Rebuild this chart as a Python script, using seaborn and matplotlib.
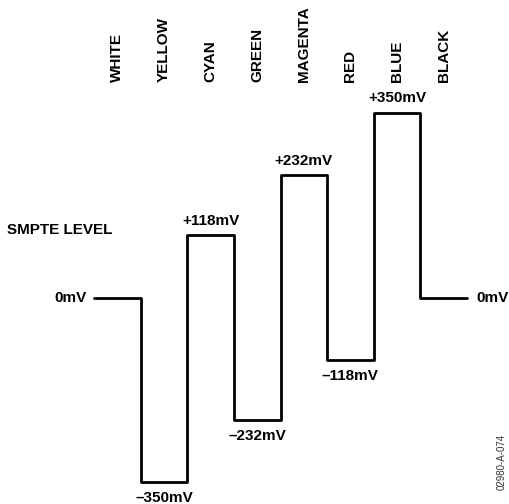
import numpy as np
import pandas as pd
import seaborn as sns
import matplotlib.pyplot as plt

# SMPTE colour bar levels (mV)
colors = ["WHITE", "YELLOW", "CYAN", "GREEN", "MAGENTA", "RED", "BLUE", "BLACK"]
levels_mv = [0, -350, 118, -232, 232, -118, 350, 0]
level_labels = ["0mV", "–350mV", "+118mV", "–232mV", "+232mV", "–118mV", "+350mV", "0mV"]

sns.set_style("white")
plt.rcParams["font.family"] = ["Liberation Sans", "DejaVu Sans"]
plt.rcParams["font.weight"] = "bold"
plt.rcParams["text.color"] = "black"

# steps-post needs one extra point to close the last bar
df = pd.DataFrame({
    "bar": np.arange(len(colors) + 1),
    "mv": levels_mv + [levels_mv[-1]],
})

fig = plt.figure(figsize=(5.09, 5.04), dpi=100)
ax = fig.add_axes([94 / 509, 22 / 504, 373 / 509, 369 / 504])

sns.lineplot(data=df, x="bar", y="mv", drawstyle="steps-post",
             color="black", linewidth=2.0, ax=ax, clip_on=False)

ax.set_xlim(0, len(colors))
ax.set_ylim(-350, 350)
ax.axis("off")

fs = 11
# colour names along the top, centred on each bar
for i, name in enumerate(colors):
    ax.annotate(name, xy=(i + 0.5, 1 - 82 / 504),
                xycoords=("data", "figure fraction"),
                rotation=90, ha="center", va="bottom",
                fontsize=fs, fontweight="bold", color="black")

# level labels above/below each bar (inner bars only)
for i in range(1, len(colors) - 1):
    v = levels_mv[i]
    if v > 0:
        ax.annotate(level_labels[i], xy=(i + 0.5, v), xytext=(0, 5.5),
                    textcoords="offset points", ha="center", va="bottom",
                    fontsize=fs, fontweight="bold", color="black")
    else:
        ax.annotate(level_labels[i], xy=(i + 0.5, v), xytext=(0, -6.5),
                    textcoords="offset points", ha="center", va="top",
                    fontsize=fs, fontweight="bold", color="black")

# 0mV at both ends
ax.annotate(level_labels[0], xy=(0, levels_mv[0]), xytext=(-5, 0),
            textcoords="offset points", ha="right", va="center",
            fontsize=fs, fontweight="bold", color="black")
ax.annotate(level_labels[-1], xy=(len(colors), levels_mv[-1]), xytext=(7, 0),
            textcoords="offset points", ha="left", va="center",
            fontsize=fs, fontweight="bold", color="black")

fig.text(7 / 509, 1 - 230 / 504, "SMPTE LEVEL", ha="left", va="center",
         fontsize=fs, fontweight="bold", color="black")
fig.text(502 / 509, 1 - 462 / 504, "02980-A-074", rotation=90,
         ha="center", va="center", fontsize=7, fontweight="normal", color="#333333")

fig.savefig("out.png", dpi=100)
